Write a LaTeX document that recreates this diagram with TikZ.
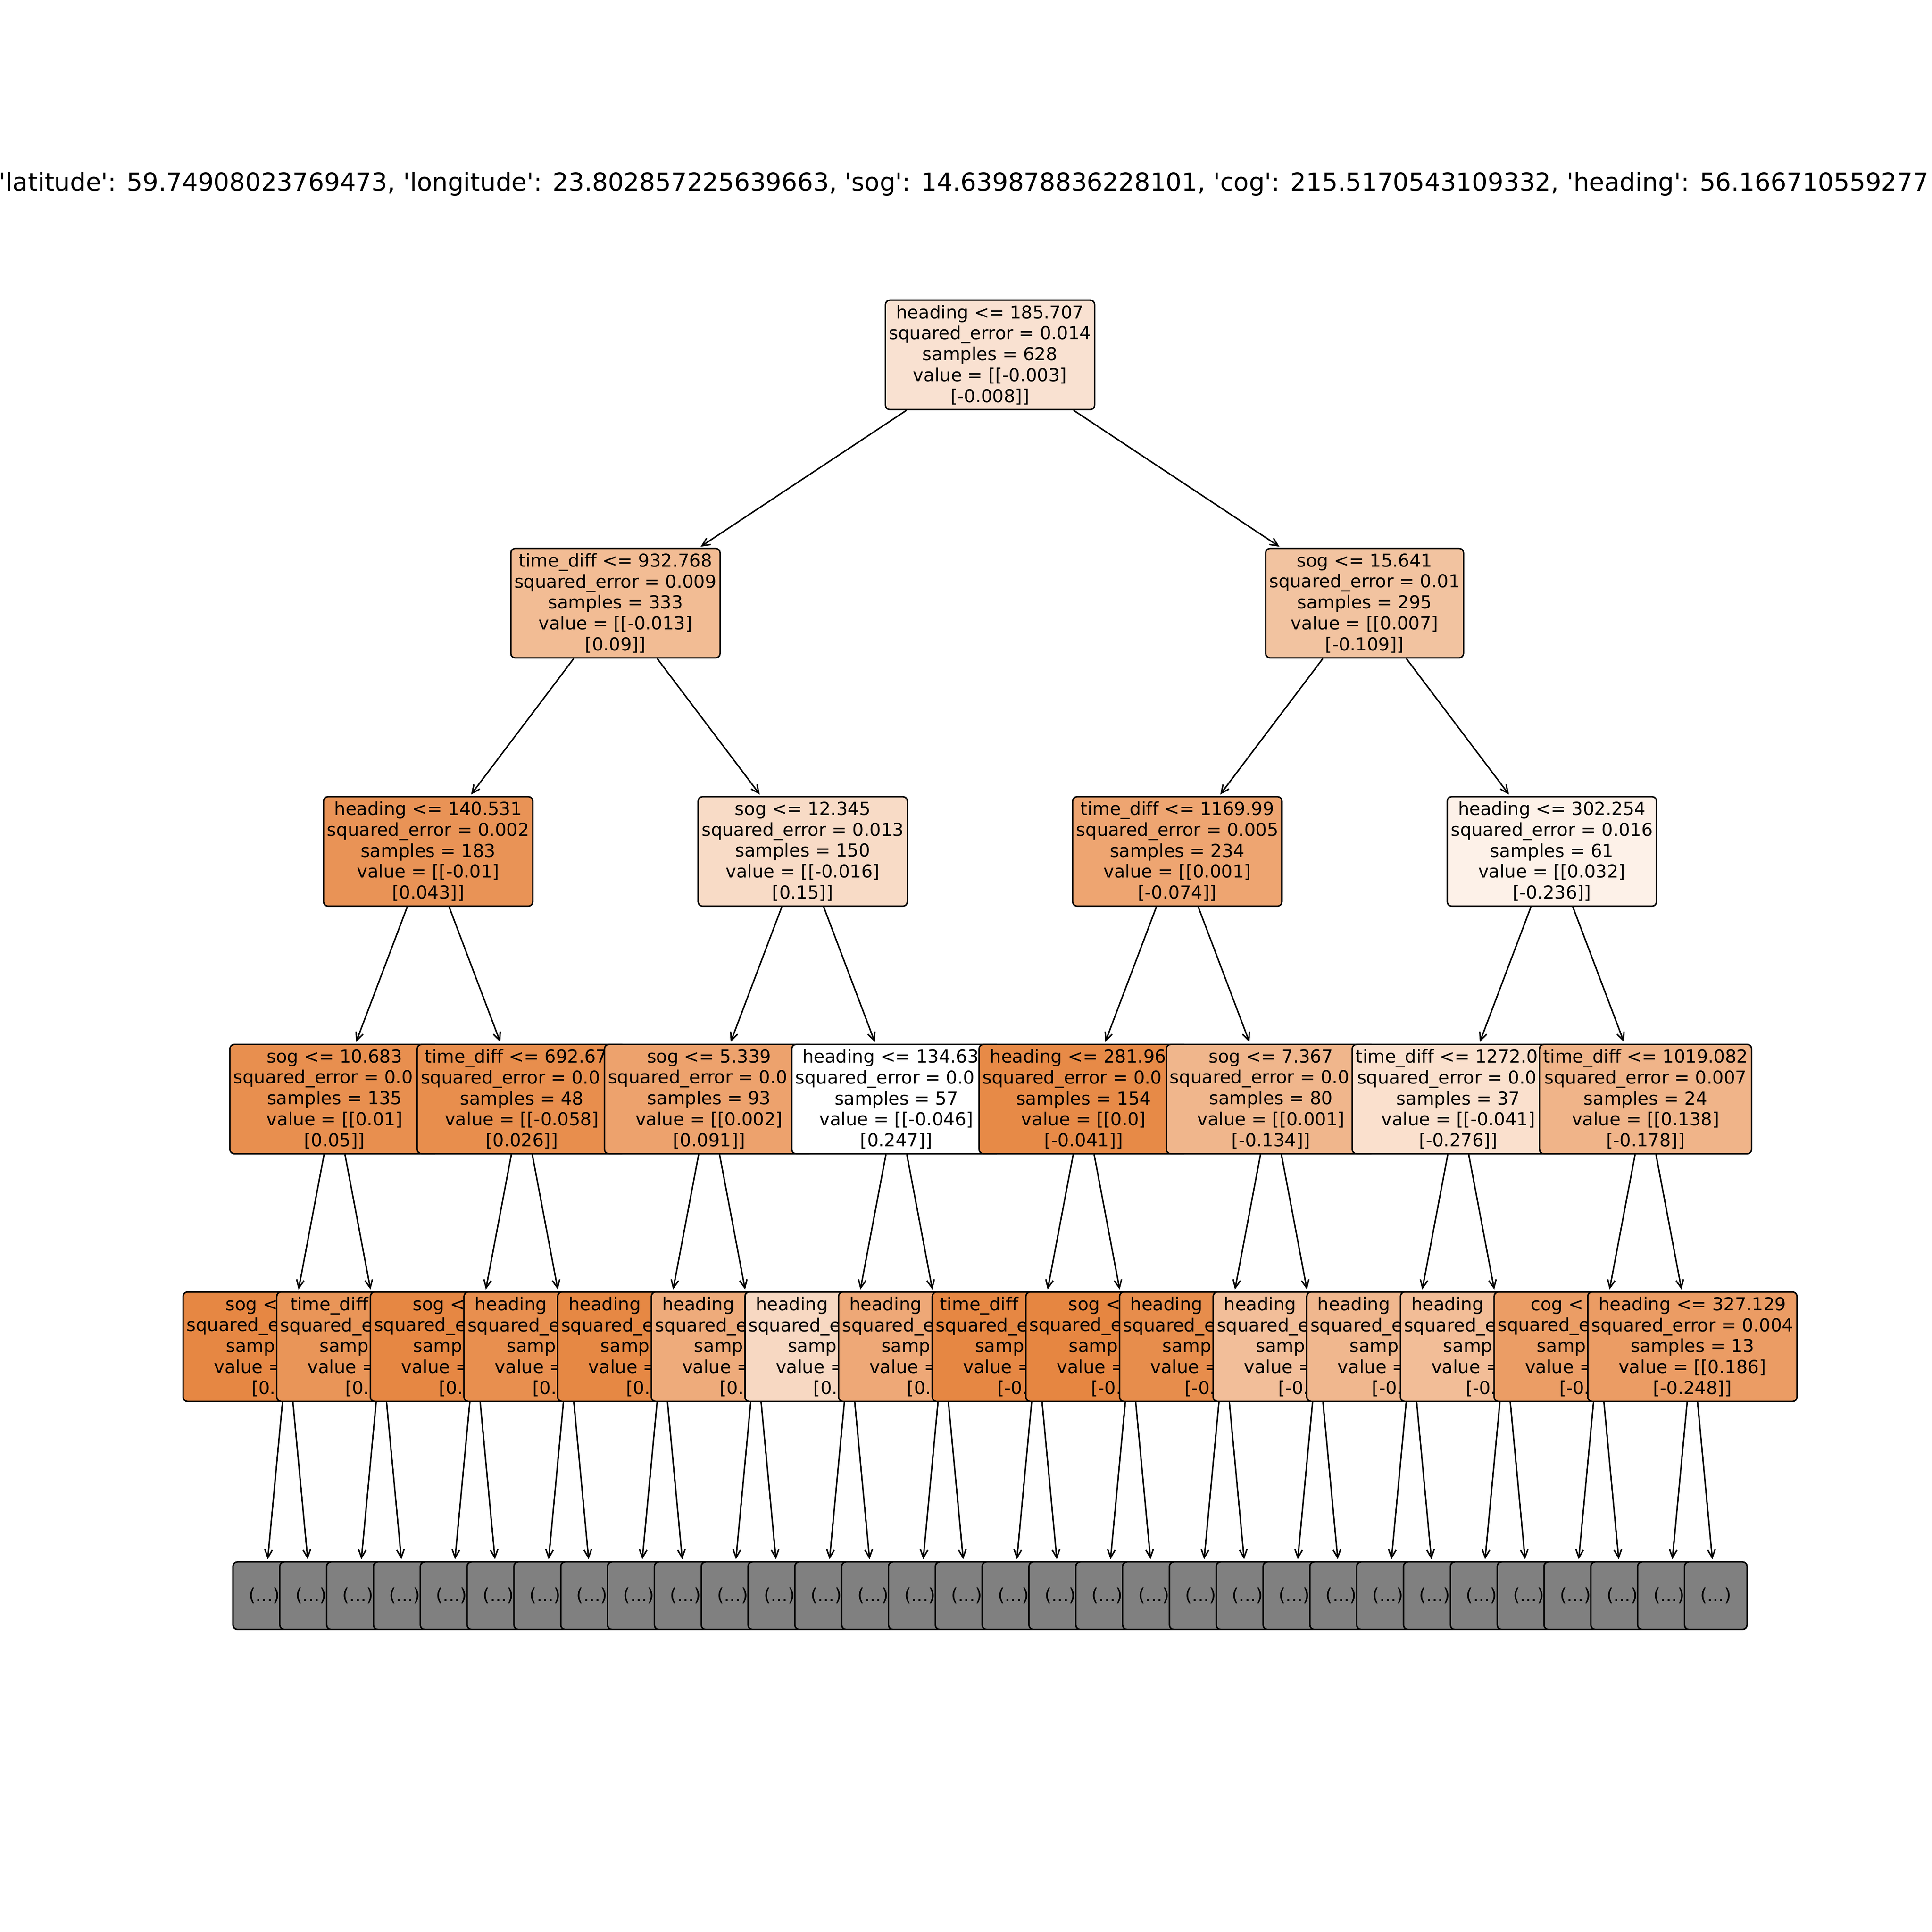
\documentclass[tikz,border=0pt]{standalone}
\usepackage{fontspec}
\setmainfont{DejaVu Sans}[Ligatures={TeXOff,CommonOff}]
\usetikzlibrary{arrows.meta}
\definecolor{fd0n1}{HTML}{F9E1D1}
\definecolor{fd1n1}{HTML}{F2BC94}
\definecolor{fd1n2}{HTML}{F2C3A0}
\definecolor{fd2n1}{HTML}{E99356}
\definecolor{fd2n2}{HTML}{F8DBC6}
\definecolor{fd2n3}{HTML}{EEA571}
\definecolor{fd2n4}{HTML}{FDF1E8}
\definecolor{fd3n1}{HTML}{E88F4F}
\definecolor{fd3n2}{HTML}{E88E4D}
\definecolor{fd3n3}{HTML}{EDA26D}
\definecolor{fd3n4}{HTML}{FFFFFF}
\definecolor{fd3n5}{HTML}{E78A47}
\definecolor{fd3n6}{HTML}{F0B68C}
\definecolor{fd3n7}{HTML}{FAE0CD}
\definecolor{fd3n8}{HTML}{F0B489}
\definecolor{fd4n16}{HTML}{EB9C64}
\definecolor{leafgray}{HTML}{808080}

\begin{document}
\begin{tikzpicture}[x=0.6889pt,y=-0.6889pt,
  every node/.style={font=\fontsize{10}{11.7}\selectfont},
  split/.style={draw,line width=0.8pt,rounded corners=2.5pt,align=center,
    inner xsep=2pt,inner ysep=0pt,minimum height=61.2pt},
  more/.style={draw,line width=0.8pt,rounded corners=2.5pt,fill=leafgray,
    inner sep=0pt,minimum width=35pt,minimum height=37.8pt},
  >={Straight Barb[length=4.5pt,width=4.2pt]}]
\fill[white] (0,0) rectangle (1568,1568);
\useasboundingbox (0,0) rectangle (1568,1568);
\clip (0,0) rectangle (1568,1568);
\node[anchor=base west,inner sep=0pt,font=\fontsize{13.88}{16.6}\selectfont] (title) at (-1,155)
  {'latitude': 59.74908023769473, 'longitude': 23.802857225639663, 'sog': 14.639878836228101, 'cog': 215.5170543109332, 'heading': 56.166710559277};
% depth 0 to 2
\node[split,fill=fd0n1] (d0n1) at (803.5,288) {heading <= 185.707\\squared\_error = 0.014\\samples = 628\\value = [[-0.003]\\{[}-0.008]]};
\node[split,fill=fd1n1] (d1n1) at (499.5,489.5) {time\_diff <= 932.768\\squared\_error = 0.009\\samples = 333\\value = [[-0.013]\\{[}0.09]]};
\node[split,fill=fd1n2] (d1n2) at (1107.5,489.5) {sog <= 15.641\\squared\_error = 0.01\\samples = 295\\value = [[0.007]\\{[}-0.109]]};
\node[split,fill=fd2n1] (d2n1) at (347.5,691) {heading <= 140.531\\squared\_error = 0.002\\samples = 183\\value = [[-0.01]\\{[}0.043]]};
\node[split,fill=fd2n2] (d2n2) at (651.5,691) {sog <= 12.345\\squared\_error = 0.013\\samples = 150\\value = [[-0.016]\\{[}0.15]]};
\node[split,fill=fd2n3] (d2n3) at (955.5,691) {time\_diff <= 1169.99\\squared\_error = 0.005\\samples = 234\\value = [[0.001]\\{[}-0.074]]};
\node[split,fill=fd2n4] (d2n4) at (1259.5,691) {heading <= 302.254\\squared\_error = 0.016\\samples = 61\\value = [[0.032]\\{[}-0.236]]};
% depth 3, each box lies over the one before
\node[split,fill=fd3n1] (d3n1) at (271.5,892) {sog <= 10.683\\squared\_error = 0.0\phantom{00}\\samples = 135\\value = [[0.01]\\{[}0.05]]};
\node[split,fill=fd3n2] (d3n2) at (423.5,892) {time\_diff <= 692.67\phantom{0}\\squared\_error = 0.0\phantom{00}\\samples = 48\\value = [[-0.058]\\{[}0.026]]};
\node[split,fill=fd3n3] (d3n3) at (575.5,892) {sog <= 5.339\\squared\_error = 0.0\phantom{00}\\samples = 93\\value = [[0.002]\\{[}0.091]]};
\node[split,fill=fd3n4] (d3n4) at (727.5,892) {heading <= 134.63\phantom{0}\\squared\_error = 0.0\phantom{00}\\samples = 57\\value = [[-0.046]\\{[}0.247]]};
\node[split,fill=fd3n5] (d3n5) at (879.5,892) {heading <= 281.96\phantom{0}\\squared\_error = 0.0\phantom{00}\\samples = 154\\value = [[0.0]\\{[}-0.041]]};
\node[split,fill=fd3n6] (d3n6) at (1031.5,892) {sog <= 7.367\\squared\_error = 0.0\phantom{00}\\samples = 80\\value = [[0.001]\\{[}-0.134]]};
\node[split,fill=fd3n7] (d3n7) at (1183.5,892) {time\_diff <= 1272.0\phantom{00}\\squared\_error = 0.0\phantom{00}\\samples = 37\\value = [[-0.041]\\{[}-0.276]]};
\node[split,fill=fd3n8] (d3n8) at (1335.5,892) {time\_diff <= 1019.082\\squared\_error = 0.007\\samples = 24\\value = [[0.138]\\{[}-0.178]]};
% depth 4
\foreach \k/\c/\f/\s in {1/E68743/{sog <\phantom{= 0.000}}/{},
  2/E99558/{time\_diff\phantom{\ <= 00.000}}/{},
  3/E68743/{sog <\phantom{= 0.000}}/{},
  4/E88F4F/{heading\phantom{\ <= 000.000}}/{},
  5/E68844/{heading\phantom{\ <= 000.000}}/{},
  6/EEAB7B/{heading\phantom{\ <= 000.000}}/{},
  7/F7D8C2/{heading\phantom{\ <= 000.000}}/{},
  8/EEA877/{heading\phantom{\ <= 000.000}}/{},
  9/E68743/{time\_diff\phantom{\ <= 000.000}}/-,
  10/E68641/{sog <\phantom{= 0.000}}/-,
  11/E78D4C/{heading\phantom{\ <= 000.000}}/-,
  12/F2BE99/{heading\phantom{\ <= 000.000}}/-,
  13/F0B78E/{heading\phantom{\ <= 000.000}}/-,
  14/F2BD97/{heading\phantom{\ <= 000.000}}/-,
  15/EB9D65/{cog <\phantom{= 00.000}}/-}
{\definecolor{fd4}{HTML}{\c}
 \node[split,fill=fd4] (d4n\k) at ({233.5+76*(\k-1)},1093)
   {\f\\squared\_e\phantom{rror = 0.000}\\samp\phantom{les = 00}\\value =\phantom{\ [[0.000]}\\{[}\s0.\phantom{000]]}};
}
\node[split,fill=fd4n16] (d4n16) at (1373.5,1093) {heading <= 327.129\\squared\_error = 0.004\\samples = 13\\value = [[0.186]\\{[}-0.248]]};
% depth 5
\foreach \m in {1,...,32}
  \node[more] (d5n\m) at ({214.5+38*(\m-1)},1295) {(...)};
% connectors
\foreach \d/\n in {1/2,2/4,3/8,4/16,5/32}
{\foreach \k in {1,...,\n}
 {\pgfmathtruncatemacro\pd{\d-1}
  \pgfmathtruncatemacro\pk{(\k+1)/2}
  \draw[->,line width=0.8pt,shorten >=1pt](d\pd n\pk)--(d\d n\k);
 }
}
\end{tikzpicture}
\end{document}
